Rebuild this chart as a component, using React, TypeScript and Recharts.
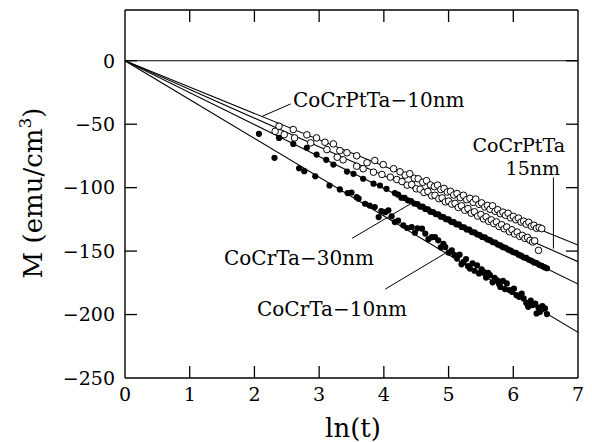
import React from 'react'
import {
  ComposedChart,
  Line,
  Scatter,
  XAxis,
  YAxis,
  ReferenceLine,
  Customized
} from 'recharts'

// ln(t) ticks and M ticks
const xTicks = [0, 1, 2, 3, 4, 5, 6, 7]
const yTicks = [-250, -200, -150, -100, -50, 0]
const xDomain: [number, number] = [0, 7]
const yDomain: [number, number] = [-250, 40]

// fitted straight lines: start at the origin, value where each hits ln(t) = 7
const fitNames = ['CoCrPtTa-10nm', 'CoCrPtTa-15nm', 'CoCrTa-30nm', 'CoCrTa-10nm']
const fitEndX = 7
const fitEndValues = [-145.2, -158.3, -176.0, -214.0]

// open circles, upper band
const cocrptta10nm: [number, number][] = [
  [2.38, -51.6], [2.6, -54.2], [2.81, -58.4], [2.96, -60.8], [3.09, -64.2], [3.22, -65.5],
  [3.32, -70.8], [3.43, -72.5], [3.58, -74.9], [3.74, -80.4], [3.86, -78.6], [3.99, -81.8],
  [4.15, -85.1], [4.25, -87.5], [4.33, -90.1], [4.4, -89.0], [4.47, -92.6], [4.53, -93.0],
  [4.6, -95.8], [4.66, -94.5], [4.72, -97.9], [4.78, -99.2], [4.83, -98.0], [4.88, -101.5],
  [4.93, -100.6], [4.98, -103.4], [5.03, -102.9], [5.08, -105.8], [5.13, -104.6], [5.18, -107.8],
  [5.23, -106.0], [5.28, -109.5], [5.33, -108.4], [5.38, -111.6], [5.42, -109.0], [5.47, -113.1],
  [5.51, -112.0], [5.56, -115.2], [5.6, -114.0], [5.64, -117.0], [5.68, -114.3], [5.72, -118.6],
  [5.76, -117.4], [5.8, -120.5], [5.84, -119.3], [5.88, -121.8], [5.92, -120.2], [5.96, -123.8],
  [6.0, -122.6], [6.04, -125.3], [6.08, -124.0], [6.12, -127.1], [6.16, -126.4], [6.2, -128.8],
  [6.24, -127.3], [6.28, -130.4], [6.32, -129.6], [6.36, -132.0], [6.4, -131.4], [6.44, -132.3]
]

// open circles, lower band
const cocrptta15nm: [number, number][] = [
  [2.32, -55.6], [2.46, -58.2], [2.62, -60.8], [2.87, -64.7], [3.12, -70.0], [3.28, -76.0],
  [3.37, -78.1], [3.58, -83.1], [3.68, -85.1], [3.84, -87.8], [3.97, -89.6], [4.1, -91.7],
  [4.2, -93.6], [4.28, -95.2], [4.36, -98.0], [4.43, -97.6], [4.5, -100.9], [4.56, -101.2],
  [4.62, -103.8], [4.68, -103.0], [4.74, -106.4], [4.79, -106.0], [4.85, -108.7], [4.9, -108.1],
  [4.95, -111.2], [5.0, -110.6], [5.05, -113.0], [5.1, -112.4], [5.15, -115.6], [5.2, -114.3],
  [5.25, -117.8], [5.3, -116.5], [5.35, -120.1], [5.4, -119.0], [5.45, -122.4], [5.5, -121.1],
  [5.54, -124.6], [5.58, -123.0], [5.62, -126.5], [5.66, -125.4], [5.7, -128.3], [5.74, -127.0],
  [5.78, -130.6], [5.82, -129.2], [5.86, -132.4], [5.9, -131.0], [5.94, -134.7], [5.98, -133.2],
  [6.02, -136.5], [6.06, -135.0], [6.1, -138.4], [6.14, -137.6], [6.18, -140.0], [6.22, -139.2],
  [6.26, -141.5], [6.3, -142.8], [6.33, -141.9], [6.39, -149.4]
]

// filled dots, upper band
const cocrta30nm: [number, number][] = [
  [2.38, -60.8], [2.6, -65.5], [2.81, -68.6], [2.96, -73.9], [3.11, -78.1], [3.22, -81.8],
  [3.43, -87.3], [3.53, -89.1], [3.68, -93.0], [3.84, -96.9], [3.94, -98.3], [4.04, -100.9],
  [4.17, -104.3], [4.22, -105.5], [4.27, -107.9], [4.32, -108.1], [4.37, -110.0], [4.42, -110.6],
  [4.47, -112.5], [4.52, -113.0], [4.56, -114.9], [4.6, -115.0], [4.64, -116.8], [4.68, -117.1],
  [4.72, -118.9], [4.76, -119.2], [4.8, -120.8], [4.84, -121.0], [4.88, -122.9], [4.92, -123.2],
  [4.96, -124.8], [5.0, -125.0], [5.04, -126.9], [5.08, -127.2], [5.12, -128.9], [5.16, -129.0],
  [5.2, -131.0], [5.24, -131.2], [5.28, -132.9], [5.32, -133.1], [5.36, -135.0], [5.4, -135.3],
  [5.44, -136.8], [5.48, -137.4], [5.52, -138.9], [5.56, -139.2], [5.6, -140.8], [5.64, -141.4],
  [5.68, -142.9], [5.72, -143.3], [5.76, -144.8], [5.8, -145.5], [5.84, -146.9], [5.88, -147.4],
  [5.92, -148.8], [5.96, -149.6], [6.0, -150.9], [6.04, -151.4], [6.08, -152.8], [6.12, -153.6],
  [6.16, -154.9], [6.2, -155.4], [6.24, -156.8], [6.28, -157.6], [6.32, -158.9], [6.36, -159.4],
  [6.4, -160.8], [6.44, -161.6], [6.48, -162.7], [6.52, -163.5]
]

// filled dots, lower band
const cocrta10nm: [number, number][] = [
  [2.07, -57.6], [2.31, -76.5], [2.69, -84.7], [2.77, -87.0], [2.94, -91.0], [3.16, -98.3],
  [3.32, -101.4], [3.44, -104.3], [3.5, -103.8], [3.58, -107.5], [3.61, -108.7], [3.71, -112.7],
  [3.78, -114.1], [3.86, -115.3], [3.92, -123.2], [3.96, -118.4], [4.02, -119.3], [4.07, -117.9],
  [4.12, -122.6], [4.17, -127.1], [4.22, -126.0], [4.3, -129.7], [4.36, -131.8], [4.43, -131.0],
  [4.48, -135.5], [4.52, -132.0], [4.59, -132.3], [4.64, -136.2], [4.69, -140.6], [4.74, -139.0],
  [4.79, -138.9], [4.84, -141.5], [4.88, -147.0], [4.92, -144.2], [4.95, -146.8], [5.0, -151.2],
  [5.05, -149.4], [5.09, -153.0], [5.13, -155.9], [5.17, -152.8], [5.2, -160.4], [5.23, -158.5],
  [5.27, -156.3], [5.3, -161.9], [5.33, -163.8], [5.37, -159.6], [5.4, -165.5], [5.44, -161.2],
  [5.47, -167.6], [5.51, -164.4], [5.54, -166.4], [5.58, -170.9], [5.61, -167.2], [5.64, -169.0],
  [5.68, -174.6], [5.71, -171.0], [5.75, -173.0], [5.78, -176.0], [5.8, -178.2], [5.84, -173.4],
  [5.87, -179.9], [5.9, -175.5], [5.94, -180.7], [5.98, -182.1], [6.01, -179.6], [6.05, -184.7],
  [6.09, -186.0], [6.13, -183.5], [6.16, -187.3], [6.2, -190.8], [6.23, -193.9], [6.27, -189.0],
  [6.3, -192.5], [6.34, -191.3], [6.36, -199.1], [6.39, -194.6], [6.41, -197.9], [6.45, -193.4],
  [6.49, -195.2], [6.52, -199.6]
]

// leader lines from labels to the fits (data coords)
const leaders = [
  [{ x: 2.12, y: -43.8 }, { x: 2.56, y: -34.0 }],
  [{ x: 6.62, y: -92.0 }, { x: 6.62, y: -148.0 }],
  [{ x: 3.51, y: -139.9 }, { x: 4.45, y: -111.6 }],
  [{ x: 4.02, y: -180.0 }, { x: 4.95, y: -151.7 }]
]

const FONT = '"DejaVu Serif", serif'
const W = 592
const H = 442
const MARGIN = { top: 9, right: 13, bottom: 0, left: 0 }
const X_AXIS_H = 64
const Y_AXIS_W = 125
const TICK_LEN = 12

// plot box, same numbers the chart is laid out with
const plotLeft = MARGIN.left + Y_AXIS_W
const plotRight = W - MARGIN.right - 1
const plotTop = MARGIN.top + 1
const plotBottom = H - MARGIN.bottom - X_AXIS_H
const px = (v: number) => plotLeft + ((v - xDomain[0]) / (xDomain[1] - xDomain[0])) * (plotRight - plotLeft)
const py = (v: number) => plotTop + ((yDomain[1] - v) / (yDomain[1] - yDomain[0])) * (plotBottom - plotTop)

const toPts = (arr: [number, number][]) => arr.map(([x, y]) => ({ x, y }))
const fmt = (v: number) => (v < 0 ? `\u2212${-v}` : `${v}`)

const OpenDot = (props: any) => (
  <circle cx={props.cx} cy={props.cy} r={3.3} fill="#fff" stroke="#000" strokeWidth={1} />
)
const FilledDot = (props: any) => (
  <circle cx={props.cx} cy={props.cy} r={3.1} fill="#000" />
)

// inward tick marks on all four sides
const InnerTicks = () => (
  <g stroke="#000" strokeWidth={1.3}>
    {xTicks.slice(1, -1).map((t) => (
      <g key={`x${t}`}>
        <line x1={px(t)} y1={plotBottom} x2={px(t)} y2={plotBottom - TICK_LEN} />
        <line x1={px(t)} y1={plotTop} x2={px(t)} y2={plotTop + TICK_LEN} />
      </g>
    ))}
    {yTicks.slice(1).map((t) => (
      <g key={`y${t}`}>
        <line x1={plotLeft} y1={py(t)} x2={plotLeft + TICK_LEN} y2={py(t)} />
        <line x1={plotRight} y1={py(t)} x2={plotRight - TICK_LEN} y2={py(t)} />
      </g>
    ))}
  </g>
)

const Texts = () => (
  <g fontFamily={FONT} fill="#000">
    <text x={293} y={107} fontSize={20}>CoCrPtTa{'\u2212'}10nm</text>
    <text x={565} y={152} fontSize={19} textAnchor="end">CoCrPtTa</text>
    <text x={560} y={175} fontSize={19} textAnchor="end">15nm</text>
    <text x={224} y={265} fontSize={20}>CoCrTa{'\u2212'}30nm</text>
    <text x={257} y={316} fontSize={20}>CoCrTa{'\u2212'}10nm</text>
    <text x={353} y={437} fontSize={26} textAnchor="middle">ln(t)</text>
    <text x={42} y={193} fontSize={26} textAnchor="middle" transform="rotate(-90, 42, 193)">
      M (emu/cm<tspan fontSize={17} dy={-11}>3</tspan><tspan dy={11}>)</tspan>
    </text>
  </g>
)

export default function App() {
  const axisLine = { stroke: '#000', strokeWidth: 1.4 }
  const tick = { fontSize: 19, fill: '#000', fontFamily: FONT }

  return (
    <div style={{ position: 'absolute', left: 0, top: 0, width: W, height: H, background: '#fff' }}>
      <ComposedChart width={W} height={H} margin={MARGIN}>
        <XAxis
          type="number"
          dataKey="x"
          domain={xDomain}
          ticks={xTicks}
          height={X_AXIS_H}
          axisLine={axisLine}
          tickLine={false}
          tickSize={0}
          tickMargin={10}
          tick={tick}
          interval={0}
          allowDataOverflow
        />
        <XAxis
          xAxisId="top"
          orientation="top"
          type="number"
          dataKey="x"
          domain={xDomain}
          ticks={xTicks}
          height={1}
          axisLine={axisLine}
          tickLine={false}
          tick={false}
          allowDataOverflow
        />
        <YAxis
          type="number"
          dataKey="y"
          domain={yDomain}
          ticks={yTicks}
          width={Y_AXIS_W}
          axisLine={axisLine}
          tickLine={false}
          tickSize={0}
          tickMargin={10}
          tick={tick}
          tickFormatter={fmt}
          interval={0}
          allowDataOverflow
        />
        <YAxis
          yAxisId="right"
          orientation="right"
          type="number"
          dataKey="y"
          domain={yDomain}
          ticks={yTicks}
          width={1}
          axisLine={axisLine}
          tickLine={false}
          tick={false}
          allowDataOverflow
        />
        <ReferenceLine y={0} stroke="#000" strokeWidth={1.1} />
        {leaders.map((seg, i) => (
          <ReferenceLine key={i} segment={seg} stroke="#000" strokeWidth={1} />
        ))}
        {fitEndValues.map((v, i) => (
          <Line
            key={fitNames[i]}
            data={[{ x: 0, y: 0 }, { x: fitEndX, y: v }]}
            dataKey="y"
            stroke="#000"
            strokeWidth={1.1}
            dot={false}
            isAnimationActive={false}
          />
        ))}
        <Scatter data={toPts(cocrta30nm)} shape={FilledDot} isAnimationActive={false} />
        <Scatter data={toPts(cocrta10nm)} shape={FilledDot} isAnimationActive={false} />
        <Scatter data={toPts(cocrptta15nm)} shape={OpenDot} isAnimationActive={false} />
        <Scatter data={toPts(cocrptta10nm)} shape={OpenDot} isAnimationActive={false} />
        <Customized component={InnerTicks} />
        <Customized component={Texts} />
      </ComposedChart>
    </div>
  )
}
